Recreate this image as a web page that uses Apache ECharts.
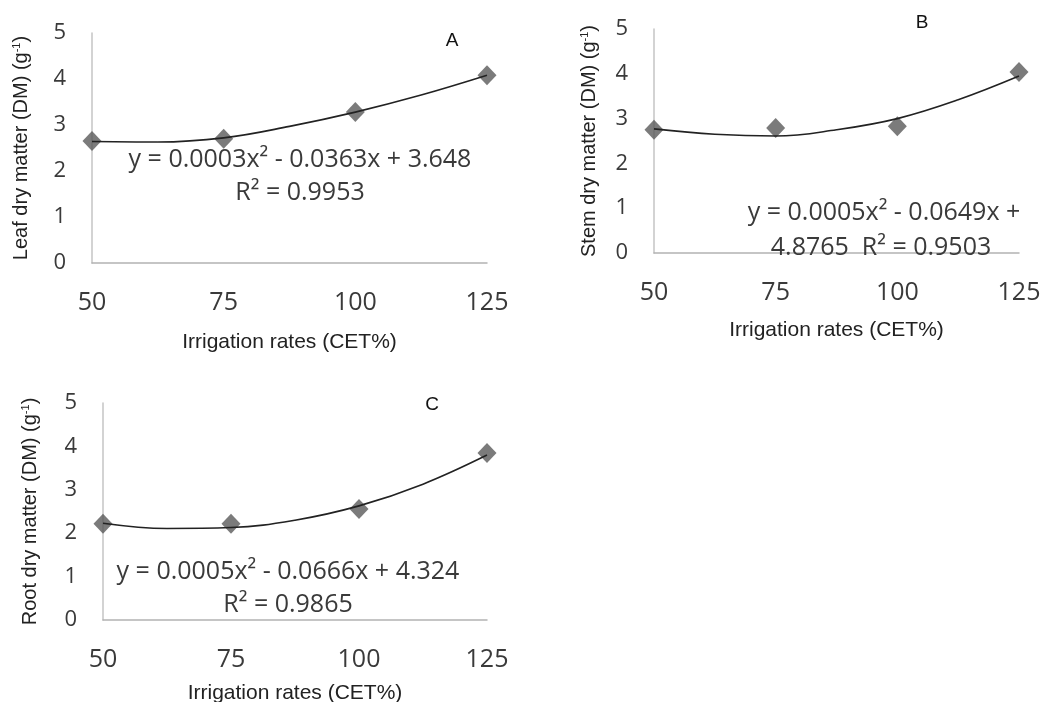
<!DOCTYPE html>
<html>
<head>
<meta charset="utf-8">
<script src="https://cdn.jsdelivr.net/npm/echarts@6/dist/echarts.min.js"></script>
<style>html,body{margin:0;padding:0;background:#fff}#c{width:1053px;height:702px}</style>
</head>
<body>
<div id="c"></div>
<script>
// ---- data ----
const irrigationRates = [50, 75, 100, 125];
const xTicks = [50, 75, 100, 125];
const yTicks = [0, 1, 2, 3, 4, 5];
const leafDM = [2.65, 2.70, 3.28, 4.08];
const stemDM = [2.75, 2.79, 2.83, 4.04];
const rootDM = [2.22, 2.22, 2.56, 3.85];
// trendline points
const trendX = [50, 62.5, 75, 87.5, 100, 112.5, 125];
const leafTrend = [2.64, 2.63, 2.72, 2.97, 3.28, 3.65, 4.08];
const stemTrend = [2.77, 2.65, 2.61, 2.75, 3.00, 3.42, 3.95];
const rootTrend = [2.23, 2.11, 2.13, 2.30, 2.63, 3.13, 3.80];
const panelLetters = ['A', 'B', 'C'];
const yTitles = ['Leaf dry matter (DM) (g{sup|-1})', 'Stem dry matter (DM) (g{sup|-1})', 'Root dry matter (DM) (g{sup|-1})'];
const xTitle = 'Irrigation rates (CET%)';
const eqLine1 = ['y = 0.0003x² - 0.0363x + 3.648', 'y = 0.0005x² - 0.0649x +', 'y = 0.0005x² - 0.0666x + 4.324'];
const eqLine2 = ['R² = 0.9953', '4.8765  R² = 0.9503', 'R² = 0.9865'];

const panels = [
  {grid: {left: 92, top: 33, width: 395, height: 230}, pts: leafDM, trend: leafTrend,
   letter: [452, 41], eq1: [300, 160], eq2: [300, 193], xGap: 69, yGap: 60},
  {grid: {left: 654, top: 29, width: 365, height: 224}, pts: stemDM, trend: stemTrend,
   letter: [922, 23], eq1: [884, 213], eq2: [881, 248], xGap: 67, yGap: 54},
  {grid: {left: 103, top: 403, width: 384, height: 217}, pts: rootDM, trend: rootTrend,
   letter: [432, 405], eq1: [288, 572], eq2: [288, 605], xGap: 63, yGap: 62}
];

const chart = echarts.init(document.getElementById('c'), null, {renderer: 'canvas'});
const grids = [], xAxes = [], yAxes = [], series = [], graphics = [];
panels.forEach((p, i) => {
  grids.push(Object.assign({outerBoundsMode: 'none', containLabel: false}, p.grid));
  xAxes.push({
    gridIndex: i, type: 'value', min: xTicks[0], max: xTicks[xTicks.length - 1], interval: 25,
    axisLine: {show: true, lineStyle: {color: '#b3b3b3', width: 1.5}},
    axisTick: {show: false}, splitLine: {show: false},
    axisLabel: {fontSize: 25, fontFamily: 'Open Sans', color: '#3a3a3a', margin: 27},
    name: xTitle, nameLocation: 'middle', nameGap: p.xGap,
    nameTextStyle: {fontSize: 21, fontFamily: 'Liberation Sans', color: '#222'}
  });
  yAxes.push({
    gridIndex: i, type: 'value', min: yTicks[0], max: yTicks[yTicks.length - 1], interval: 1,
    axisLine: {show: true, lineStyle: {color: '#c4c4c4', width: 1.5}},
    axisTick: {show: false}, splitLine: {show: false},
    axisLabel: {fontSize: 22, fontFamily: 'Open Sans', color: '#3a3a3a', margin: 26},
    name: yTitles[i], nameLocation: 'middle', nameGap: p.yGap,
    nameTextStyle: {fontSize: 20, fontFamily: 'Liberation Sans', color: '#222',
      rich: {sup: {fontSize: 11, fontFamily: 'Liberation Sans', color: '#222', verticalAlign: 'top', padding: [0, 0, 10, 0]}}}
  });
  series.push({
    type: 'scatter', xAxisIndex: i, yAxisIndex: i, symbol: 'diamond', symbolSize: [19, 20],
    itemStyle: {color: '#5a5a5a'}, z: 2,
    data: irrigationRates.map((x, k) => [x, p.pts[k]])
  });
  series.push({
    type: 'line', xAxisIndex: i, yAxisIndex: i, smooth: 0.4, showSymbol: false, symbol: 'none',
    lineStyle: {color: '#222', width: 1.6}, z: 3,
    data: trendX.map((x, k) => [x, p.trend[k]])
  });
  graphics.push({type: 'text', x: p.letter[0], y: p.letter[1],
    style: {text: panelLetters[i], font: '19px "Liberation Sans"', fill: '#111', align: 'center', verticalAlign: 'middle'}});
  graphics.push({type: 'text', x: p.eq1[0], y: p.eq1[1], z: 10,
    style: {text: eqLine1[i], font: '25px "Open Sans"', fill: '#3a3a3a', align: 'center', verticalAlign: 'middle'}});
  graphics.push({type: 'text', x: p.eq2[0], y: p.eq2[1], z: 10,
    style: {text: eqLine2[i], font: '25px "Open Sans"', fill: '#3a3a3a', align: 'center', verticalAlign: 'middle'}});
});

chart.setOption({
  animation: false,
  backgroundColor: '#fff',
  grid: grids, xAxis: xAxes, yAxis: yAxes, series: series, graphic: graphics
});
</script>
</body>
</html>
